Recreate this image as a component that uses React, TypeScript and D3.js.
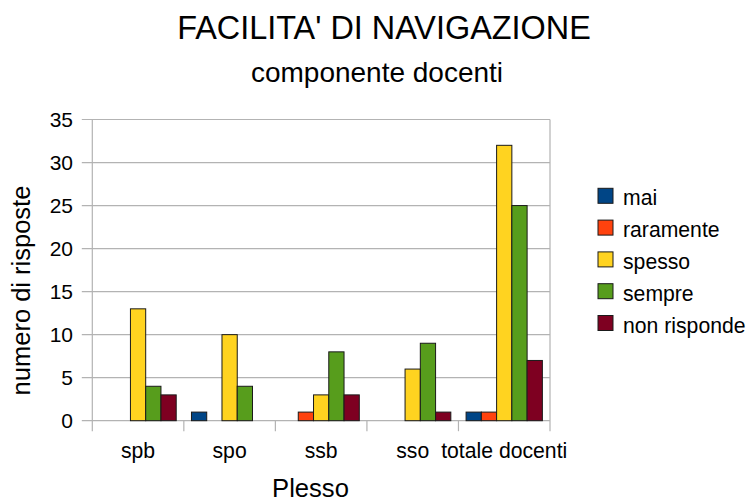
import React from "react";
import * as d3 from "d3";

const categories = ["spb", "spo", "ssb", "sso", "totale docenti"];
const seriesNames = ["mai", "raramente", "spesso", "sempre", "non risponde"];
const seriesColors = ["#004586", "#ff420e", "#ffd320", "#579d1c", "#7e0021"];
const mai = [0, 1, 0, 0, 1];
const raramente = [0, 0, 1, 0, 1];
const spesso = [13, 10, 3, 6, 32];
const sempre = [4, 4, 8, 9, 25];
const nonRisponde = [3, 0, 3, 1, 7];
const yTicks = [0, 5, 10, 15, 20, 25, 30, 35];

const seriesValues = [mai, raramente, spesso, sempre, nonRisponde];

const W = 748;
const H = 503;
const FONT = "'Liberation Sans', Arial, sans-serif";

export default function App() {
  const left = 92.3;
  const right = 550;
  const top = 119.5;
  const bottom = 420.7;

  const x0 = d3.scaleBand<string>().domain(categories).range([left, right]).paddingInner(0).paddingOuter(0);
  const x1 = d3
    .scaleBand<string>()
    .domain(seriesNames)
    .range([0, x0.bandwidth()])
    .paddingInner(0)
    .paddingOuter(0.5);
  const y = d3.scaleLinear().domain([0, 35]).range([bottom, top]);

  const grid = "#b3b3b3";

  return (
    <svg
      width={W}
      height={H}
      style={{ position: "absolute", left: 0, top: 0, background: "#fff" }}
      fontFamily={FONT}
    >
      <rect x={0} y={0} width={W} height={H} fill="#fff" />
      {/* title */}
      <text x={384} y={39} textAnchor="middle" fontSize={32.4} fill="#000">
        FACILITA' DI NAVIGAZIONE
      </text>
      <text x={377} y={82} textAnchor="middle" fontSize={28} fill="#000">
        componente docenti
      </text>

      {/* gridlines + y ticks */}
      {yTicks.map((t) => (
        <g key={t}>
          <line x1={left - 10.5} x2={right} y1={y(t)} y2={y(t)} stroke={grid} strokeWidth={1.2} />
          <text x={73} y={y(t)} dy="0.36em" textAnchor="end" fontSize={21} fill="#000">
            {t}
          </text>
        </g>
      ))}
      {/* axis lines */}
      <line x1={left} x2={left} y1={top} y2={bottom + 10.5} stroke={grid} strokeWidth={1.2} />
      <line x1={right} x2={right} y1={top} y2={bottom + 10.5} stroke={grid} strokeWidth={1.2} />
      {categories.map((c, i) =>
        i > 0 ? (
          <line
            key={"t" + c}
            x1={x0(c)!}
            x2={x0(c)!}
            y1={bottom}
            y2={bottom + 10.5}
            stroke={grid}
            strokeWidth={1.2}
          />
        ) : null
      )}

      {/* bars */}
      {categories.map((c, ci) => (
        <g key={c} transform={`translate(${x0(c)},0)`}>
          {seriesNames.map((s, si) => {
            const v = seriesValues[si][ci];
            if (!v) return null;
            return (
              <rect
                key={s}
                x={x1(s)!}
                y={y(v)}
                width={x1.bandwidth()}
                height={y(0) - y(v)}
                fill={seriesColors[si]}
                stroke="#1a1a1a"
                strokeWidth={1}
              />
            );
          })}
        </g>
      ))}

      {/* category labels */}
      {categories.map((c) => (
        <text
          key={"l" + c}
          x={x0(c)! + x0.bandwidth() / 2}
          y={458}
          textAnchor="middle"
          fontSize={21.2}
          fill="#000"
        >
          {c}
        </text>
      ))}

      {/* axis titles */}
      <text x={310.5} y={496.5} textAnchor="middle" fontSize={25.6} fill="#000">
        Plesso
      </text>
      <text
        transform={`translate(30,290.5) rotate(-90)`}
        textAnchor="middle"
        fontSize={25.5}
        fill="#000"
      >
        numero di risposte
      </text>

      {/* legend */}
      {seriesNames.map((s, i) => {
        const yy = 188.3 + i * 31.8;
        return (
          <g key={"lg" + s}>
            <rect x={598} y={yy} width={15} height={15} fill={seriesColors[i]} stroke="#1a1a1a" strokeWidth={1} />
            <text x={623} y={yy + 17} fontSize={21.2} fill="#000">
              {s}
            </text>
          </g>
        );
      })}
    </svg>
  );
}
